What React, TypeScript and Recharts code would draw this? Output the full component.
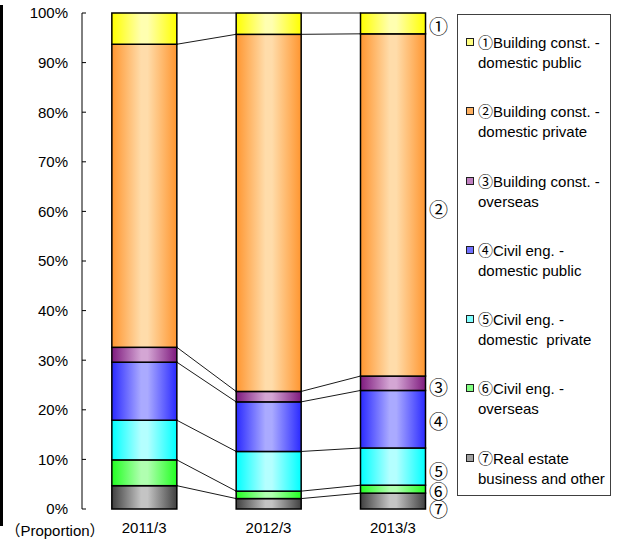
import React from "react";
import { BarChart, Bar, XAxis, YAxis, LabelList, Legend } from "recharts";

const periods = ["2011/3", "2012/3", "2013/3"];

// stacked bottom (⑦) to top (①), % of total
const realEstate = [4.7, 2.1, 3.2];
const civilOverseas = [5.2, 1.5, 1.6];
const civilPrivate = [8.0, 8.0, 7.5];
const civilPublic = [11.7, 10.0, 11.6];
const buildOverseas = [3.0, 2.1, 2.9];
const buildPrivate = [61.1, 72.0, 69.0];
const buildPublic = [6.3, 4.3, 4.2];

const yTicks = [0, 10, 20, 30, 40, 50, 60, 70, 80, 90, 100];

const series = [
  { key: "s7", mark: "⑦", name: ["Real estate", "business and other"], values: realEstate },
  { key: "s6", mark: "⑥", name: ["Civil eng. -", "overseas"], values: civilOverseas },
  { key: "s5", mark: "⑤", name: ["Civil eng. -", "domestic  private"], values: civilPrivate },
  { key: "s4", mark: "④", name: ["Civil eng. -", "domestic public"], values: civilPublic },
  { key: "s3", mark: "③", name: ["Building const. -", "overseas"], values: buildOverseas },
  { key: "s2", mark: "②", name: ["Building const. -", "domestic private"], values: buildPrivate },
  { key: "s1", mark: "①", name: ["Building const. -", "domestic public"], values: buildPublic },
];

// gradient edge / centre colours and legend swatch per series
const edgeColors: Record<string, string> = {
  s7: "#404040",
  s6: "#22ff22",
  s5: "#00ffff",
  s4: "#2a2aff",
  s3: "#7e1a7e",
  s2: "#ff9630",
  s1: "#ffff00",
};
const centerColors: Record<string, string> = {
  s7: "#c4c4c4",
  s6: "#b0ffb0",
  s5: "#b4ffff",
  s4: "#aaaaff",
  s3: "#d4a6d4",
  s2: "#ffdcaa",
  s1: "#ffffb0",
};
const swatchColors: Record<string, string> = {
  s7: "#a0a0a0",
  s6: "#80ff80",
  s5: "#80ffff",
  s4: "#7070ff",
  s3: "#c080c0",
  s2: "#ffb060",
  s1: "#ffff80",
};
// small vertical nudges for the circled numbers beside the last bar
const markNudge: Record<string, number> = {
  s7: 7, s6: 1, s5: 4, s4: 1, s3: 3, s2: 4, s1: 2,
};

const FONT = "'Liberation Sans', Arial, sans-serif";
const CJK = "'Noto Sans CJK JP', sans-serif";

const CHART_W = 618;
const CHART_H = 539;
const Y_AXIS_W = 82;
const MARGIN = { top: 13, right: 163, bottom: 0, left: 0 };
const STEP = (CHART_W - MARGIN.left - MARGIN.right - Y_AXIS_W) / periods.length;

const data = periods.map((period, i) => {
  const row: Record<string, any> = { period };
  series.forEach((s) => (row[s.key] = s.values[i]));
  return row;
});

// cumulative tops of each stack level, per period
const cumulative = series.map((_, k) =>
  periods.map((__, i) =>
    series.slice(0, k + 1).reduce((acc, s) => acc + s.values[i], 0)
  )
);

// bar segment plus the connector from its top edge to the same level on the next bar
const segmentShape = (k: number) => (props: any) => {
  const { x, y, width, height, index, fill, stroke, strokeWidth } = props;
  const value = series[k].values[index];
  let connector = null;
  if (index < periods.length - 1 && value > 0 && height > 0) {
    const pxPerUnit = height / value;
    const yNext = y + (cumulative[k][index] - cumulative[k][index + 1]) * pxPerUnit;
    connector = (
      <line
        x1={x + width}
        y1={y}
        x2={x + STEP}
        y2={yNext}
        stroke="#1a1a1a"
        strokeWidth={1}
      />
    );
  }
  return (
    <g>
      <rect
        x={x}
        y={y}
        width={width}
        height={height}
        fill={fill}
        stroke={stroke}
        strokeWidth={strokeWidth}
      />
      {connector}
    </g>
  );
};

const renderMark = (key: string, mark: string) => (props: any) => {
  const { x, y, width, height, index } = props;
  if (index !== periods.length - 1) return null;
  return (
    <text
      x={Number(x) + Number(width) + 13}
      y={Number(y) + Number(height) / 2 + markNudge[key]}
      textAnchor="middle"
      dominantBaseline="central"
      fontSize={19}
      fontFamily={CJK}
      fill="#000"
    >
      {mark}
    </text>
  );
};

const renderLegend = () => (
  <div
    style={{
      width: 154,
      height: 482,
      boxSizing: "border-box",
      border: "1px solid #404040",
      background: "#fff",
      fontFamily: FONT,
      fontSize: 15,
      color: "#000",
    }}
  >
    {[...series].reverse().map((s) => (
      <div
        key={s.key}
        style={{
          position: "relative",
          height: 69.3,
          paddingTop: 17,
          paddingLeft: 20,
          boxSizing: "border-box",
          lineHeight: "20px",
          whiteSpace: "pre",
        }}
      >
        <span
          style={{
            position: "absolute",
            left: 8,
            top: 23,
            width: 6,
            height: 6,
            border: "1.5px solid #202020",
            background: swatchColors[s.key],
          }}
        />
        <div>
          <span style={{ fontFamily: CJK, fontSize: 15 }}>{s.mark}</span>
          {s.name[0]}
        </div>
        <div>{s.name[1]}</div>
      </div>
    ))}
  </div>
);

const renderProportion = (props: any) => {
  const vb = props.viewBox || { x: 0, y: 13, width: 82, height: 496 };
  return (
    <text
      x={vb.x + vb.width / 2 + 14}
      y={vb.y + vb.height + 27}
      textAnchor="middle"
      fontSize={15}
      fontFamily={FONT}
      fill="#000"
    >
      <tspan fontFamily={CJK}>（</tspan>
      Proportion
      <tspan fontFamily={CJK}>）</tspan>
    </text>
  );
};

export default function App() {
  return (
    <div
      style={{
        position: "absolute",
        left: 0,
        top: 0,
        width: CHART_W,
        height: CHART_H,
        background: "#fff",
        overflow: "hidden",
      }}
    >
      <div
        style={{
          position: "absolute",
          left: 0,
          top: 5,
          width: 3,
          height: 521,
          background: "#000",
        }}
      />
      <BarChart
        width={CHART_W}
        height={CHART_H}
        data={data}
        margin={MARGIN}
        barCategoryGap="24%"
      >
        <defs>
          {series.map((s) => (
            <linearGradient key={s.key} id={`g-${s.key}`} x1="0" y1="0" x2="1" y2="0">
              <stop offset="0%" stopColor={edgeColors[s.key]} />
              <stop offset="45%" stopColor={centerColors[s.key]} />
              <stop offset="55%" stopColor={centerColors[s.key]} />
              <stop offset="100%" stopColor={edgeColors[s.key]} />
            </linearGradient>
          ))}
        </defs>
        <XAxis
          dataKey="period"
          height={30}
          tickLine={false}
          axisLine={false}
          tickSize={0}
          tickMargin={13}
          tick={{ fontSize: 15, fill: "#000", fontFamily: FONT }}
        />
        <YAxis
          width={Y_AXIS_W}
          domain={[0, 100]}
          ticks={yTicks}
          interval={0}
          tickFormatter={(v) => `${v}%`}
          tickSize={-4}
          tickMargin={18}
          stroke="#000"
          tick={{ fontSize: 15, fill: "#000", fontFamily: FONT }}
          label={renderProportion}
        />
        <Legend
          layout="vertical"
          align="center"
          verticalAlign="middle"
          content={renderLegend}
          wrapperStyle={{ left: 457, top: 14, width: 154, height: 482 }}
        />
        {series.map((s, k) => (
          <Bar
            key={s.key}
            dataKey={s.key}
            stackId="a"
            fill={`url(#g-${s.key})`}
            stroke="#000"
            strokeWidth={1.5}
            shape={segmentShape(k)}
            isAnimationActive={false}
          >
            <LabelList dataKey={s.key} content={renderMark(s.key, s.mark)} />
          </Bar>
        ))}
      </BarChart>
    </div>
  );
}
